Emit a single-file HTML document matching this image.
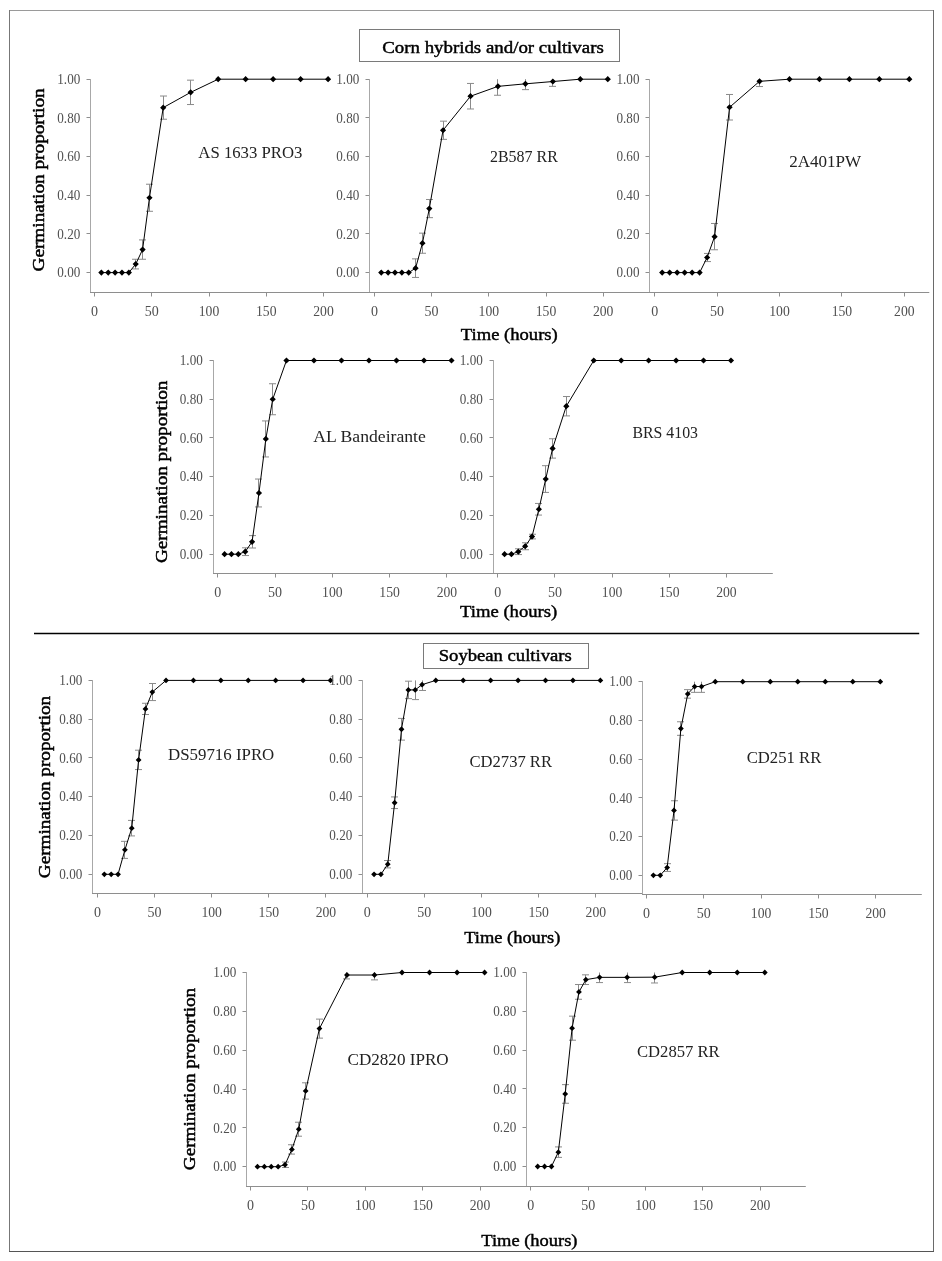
<!DOCTYPE html><html><head><meta charset="utf-8"><style>html,body{margin:0;padding:0;background:#fff;}svg{display:block;will-change:transform;}text{font-family:"Liberation Serif", serif;}</style></head><body>
<svg width="942" height="1261" viewBox="0 0 942 1261" font-family='"Liberation Serif", serif'>
<rect x="0" y="0" width="942" height="1261" fill="#fff"/>
<path d="M9,10.5H934" stroke="#9a9a9a"/><path d="M9.5,10V1252" stroke="#777"/><path d="M933.5,10V1252" stroke="#6a6a6a"/><path d="M9,1251.5H934" stroke="#555"/>
<rect x="359.5" y="29.5" width="260" height="32" fill="none" stroke="#7a7a7a" stroke-width="1"/>
<text x="382.2" y="52.8" font-size="17.5" fill="#000" stroke="#000" stroke-width="0.45" textLength="221.6" lengthAdjust="spacingAndGlyphs">Corn hybrids and/or cultivars</text>
<line x1="34" y1="633.5" x2="919.2" y2="633.5" stroke="#000" stroke-width="1.3"/>
<rect x="423.5" y="643.5" width="165" height="25" fill="none" stroke="#7a7a7a" stroke-width="1"/>
<text x="438.7" y="661.4" font-size="17.5" fill="#000" stroke="#000" stroke-width="0.45" textLength="133.1" lengthAdjust="spacingAndGlyphs">Soybean cultivars</text>
<path d="M90.5,79.0V292.5" stroke="#a8a8a8" stroke-width="1" fill="none"/>
<path d="M90.0,292.5H369.5" stroke="#8e8e8e" stroke-width="1" fill="none"/>
<path d="M86.5,272.5H90.0M86.5,233.5H90.0M86.5,195.5H90.0M86.5,156.5H90.0M86.5,117.5H90.0M86.5,79.5H90.0M94.5,293.0V296.5M151.5,293.0V296.5M209.5,293.0V296.5M266.5,293.0V296.5M323.5,293.0V296.5" stroke="#8e8e8e" stroke-width="1" fill="none"/>
<g font-size="14" fill="#505050"><text x="57.30" y="277.35" textLength="23" lengthAdjust="spacingAndGlyphs">0.00</text><text x="57.30" y="238.67" textLength="23" lengthAdjust="spacingAndGlyphs">0.20</text><text x="57.30" y="199.99" textLength="23" lengthAdjust="spacingAndGlyphs">0.40</text><text x="57.30" y="161.31" textLength="23" lengthAdjust="spacingAndGlyphs">0.60</text><text x="57.30" y="122.63" textLength="23" lengthAdjust="spacingAndGlyphs">0.80</text><text x="57.30" y="83.95" textLength="23" lengthAdjust="spacingAndGlyphs">1.00</text><text x="94.50" y="316.10" text-anchor="middle">0</text><text x="151.75" y="316.10" text-anchor="middle">50</text><text x="198.75" y="316.10" textLength="20.5" lengthAdjust="spacingAndGlyphs">100</text><text x="256.00" y="316.10" textLength="20.5" lengthAdjust="spacingAndGlyphs">150</text><text x="313.25" y="316.10" textLength="20.5" lengthAdjust="spacingAndGlyphs">200</text></g>
<path d="M135.5,259.26V268.93M132.0,259.26h7M132.0,268.93h7M142.5,239.92V259.26M139.0,239.92h7M139.0,259.26h7M149.5,184.22V211.29M146.0,184.22h7M146.0,211.29h7M163.5,96.03V119.23M160.0,96.03h7M160.0,119.23h7M190.5,80.17V104.54M187.0,80.17h7M187.0,104.54h7" stroke="#8a8a8a" stroke-width="1" fill="none"/>
<polyline points="101.37,272.60 108.24,272.60 115.11,272.60 121.98,272.60 128.85,272.60 135.72,264.09 142.59,249.59 149.46,197.75 163.20,107.63 190.68,92.35 218.16,79.20 245.64,79.20 273.12,79.20 300.60,79.20 328.08,79.20" stroke="#000" stroke-width="1" fill="none"/>
<path d="M101.37,269.50l3.1,3.1l-3.1,3.1l-3.1,-3.1zM108.24,269.50l3.1,3.1l-3.1,3.1l-3.1,-3.1zM115.11,269.50l3.1,3.1l-3.1,3.1l-3.1,-3.1zM121.98,269.50l3.1,3.1l-3.1,3.1l-3.1,-3.1zM128.85,269.50l3.1,3.1l-3.1,3.1l-3.1,-3.1zM135.72,260.99l3.1,3.1l-3.1,3.1l-3.1,-3.1zM142.59,246.49l3.1,3.1l-3.1,3.1l-3.1,-3.1zM149.46,194.65l3.1,3.1l-3.1,3.1l-3.1,-3.1zM163.20,104.53l3.1,3.1l-3.1,3.1l-3.1,-3.1zM190.68,89.25l3.1,3.1l-3.1,3.1l-3.1,-3.1zM218.16,76.10l3.1,3.1l-3.1,3.1l-3.1,-3.1zM245.64,76.10l3.1,3.1l-3.1,3.1l-3.1,-3.1zM273.12,76.10l3.1,3.1l-3.1,3.1l-3.1,-3.1zM300.60,76.10l3.1,3.1l-3.1,3.1l-3.1,-3.1zM328.08,76.10l3.1,3.1l-3.1,3.1l-3.1,-3.1z" fill="#000"/>
<text x="198.3" y="158.3" font-size="17" fill="#222" textLength="104.2" lengthAdjust="spacingAndGlyphs">AS 1633 PRO3</text>
<path d="M369.5,79.0V292.5" stroke="#a8a8a8" stroke-width="1" fill="none"/>
<path d="M369.0,292.5H649.7" stroke="#8e8e8e" stroke-width="1" fill="none"/>
<path d="M365.5,272.5H369.0M365.5,233.5H369.0M365.5,195.5H369.0M365.5,156.5H369.0M365.5,117.5H369.0M365.5,79.5H369.0M374.5,293.0V296.5M431.5,293.0V296.5M488.5,293.0V296.5M546.5,293.0V296.5M603.5,293.0V296.5" stroke="#8e8e8e" stroke-width="1" fill="none"/>
<g font-size="14" fill="#505050"><text x="336.30" y="277.35" textLength="23" lengthAdjust="spacingAndGlyphs">0.00</text><text x="336.30" y="238.67" textLength="23" lengthAdjust="spacingAndGlyphs">0.20</text><text x="336.30" y="199.99" textLength="23" lengthAdjust="spacingAndGlyphs">0.40</text><text x="336.30" y="161.31" textLength="23" lengthAdjust="spacingAndGlyphs">0.60</text><text x="336.30" y="122.63" textLength="23" lengthAdjust="spacingAndGlyphs">0.80</text><text x="336.30" y="83.95" textLength="23" lengthAdjust="spacingAndGlyphs">1.00</text><text x="374.40" y="316.10" text-anchor="middle">0</text><text x="431.60" y="316.10" text-anchor="middle">50</text><text x="478.55" y="316.10" textLength="20.5" lengthAdjust="spacingAndGlyphs">100</text><text x="535.75" y="316.10" textLength="20.5" lengthAdjust="spacingAndGlyphs">150</text><text x="592.95" y="316.10" textLength="20.5" lengthAdjust="spacingAndGlyphs">200</text></g>
<path d="M415.5,258.87V277.44M412.0,258.87h7M412.0,277.44h7M422.5,233.15V253.26M419.0,233.15h7M419.0,253.26h7M429.5,199.49V217.67M426.0,199.49h7M426.0,217.67h7M443.5,121.17V139.35M440.0,121.17h7M440.0,139.35h7M470.5,83.45V108.98M467.0,83.45h7M467.0,108.98h7M497.5,79.20V95.25M494.0,95.25h7M525.5,79.20V89.64M522.0,89.64h7M552.5,79.20V86.36M549.0,86.36h7" stroke="#8a8a8a" stroke-width="1" fill="none"/>
<polyline points="381.26,272.60 388.13,272.60 394.99,272.60 401.86,272.60 408.72,272.60 415.58,268.15 422.45,243.20 429.31,208.58 443.04,130.26 470.50,96.22 497.95,86.36 525.41,83.84 552.86,81.52 580.32,79.20 607.78,79.20" stroke="#000" stroke-width="1" fill="none"/>
<path d="M381.26,269.50l3.1,3.1l-3.1,3.1l-3.1,-3.1zM388.13,269.50l3.1,3.1l-3.1,3.1l-3.1,-3.1zM394.99,269.50l3.1,3.1l-3.1,3.1l-3.1,-3.1zM401.86,269.50l3.1,3.1l-3.1,3.1l-3.1,-3.1zM408.72,269.50l3.1,3.1l-3.1,3.1l-3.1,-3.1zM415.58,265.05l3.1,3.1l-3.1,3.1l-3.1,-3.1zM422.45,240.10l3.1,3.1l-3.1,3.1l-3.1,-3.1zM429.31,205.48l3.1,3.1l-3.1,3.1l-3.1,-3.1zM443.04,127.16l3.1,3.1l-3.1,3.1l-3.1,-3.1zM470.50,93.12l3.1,3.1l-3.1,3.1l-3.1,-3.1zM497.95,83.26l3.1,3.1l-3.1,3.1l-3.1,-3.1zM525.41,80.74l3.1,3.1l-3.1,3.1l-3.1,-3.1zM552.86,78.42l3.1,3.1l-3.1,3.1l-3.1,-3.1zM580.32,76.10l3.1,3.1l-3.1,3.1l-3.1,-3.1zM607.78,76.10l3.1,3.1l-3.1,3.1l-3.1,-3.1z" fill="#000"/>
<text x="490" y="162.2" font-size="17" fill="#222" textLength="67.8" lengthAdjust="spacingAndGlyphs">2B587 RR</text>
<path d="M649.5,79.0V292.5" stroke="#a8a8a8" stroke-width="1" fill="none"/>
<path d="M649.0,292.5H929.3" stroke="#8e8e8e" stroke-width="1" fill="none"/>
<path d="M645.5,272.5H649.0M645.5,233.5H649.0M645.5,195.5H649.0M645.5,156.5H649.0M645.5,117.5H649.0M645.5,79.5H649.0M654.5,293.0V296.5M717.5,293.0V296.5M779.5,293.0V296.5M841.5,293.0V296.5M904.5,293.0V296.5" stroke="#8e8e8e" stroke-width="1" fill="none"/>
<g font-size="14" fill="#505050"><text x="616.50" y="277.35" textLength="23" lengthAdjust="spacingAndGlyphs">0.00</text><text x="616.50" y="238.67" textLength="23" lengthAdjust="spacingAndGlyphs">0.20</text><text x="616.50" y="199.99" textLength="23" lengthAdjust="spacingAndGlyphs">0.40</text><text x="616.50" y="161.31" textLength="23" lengthAdjust="spacingAndGlyphs">0.60</text><text x="616.50" y="122.63" textLength="23" lengthAdjust="spacingAndGlyphs">0.80</text><text x="616.50" y="83.95" textLength="23" lengthAdjust="spacingAndGlyphs">1.00</text><text x="654.70" y="316.10" text-anchor="middle">0</text><text x="717.10" y="316.10" text-anchor="middle">50</text><text x="769.25" y="316.10" textLength="20.5" lengthAdjust="spacingAndGlyphs">100</text><text x="831.65" y="316.10" textLength="20.5" lengthAdjust="spacingAndGlyphs">150</text><text x="894.05" y="316.10" textLength="20.5" lengthAdjust="spacingAndGlyphs">200</text></g>
<path d="M707.5,253.45V261.58M704.0,253.45h7M704.0,261.58h7M714.5,223.48V249.78M711.0,223.48h7M711.0,249.78h7M729.5,94.48V120.01M726.0,94.48h7M726.0,120.01h7M759.5,79.20V86.55M756.0,86.55h7" stroke="#8a8a8a" stroke-width="1" fill="none"/>
<polyline points="662.19,272.60 669.68,272.60 677.16,272.60 684.65,272.60 692.14,272.60 699.63,272.60 707.12,257.51 714.60,236.63 729.58,107.24 759.53,81.33 789.48,79.20 819.44,79.20 849.39,79.20 879.34,79.20 909.29,79.20" stroke="#000" stroke-width="1" fill="none"/>
<path d="M662.19,269.50l3.1,3.1l-3.1,3.1l-3.1,-3.1zM669.68,269.50l3.1,3.1l-3.1,3.1l-3.1,-3.1zM677.16,269.50l3.1,3.1l-3.1,3.1l-3.1,-3.1zM684.65,269.50l3.1,3.1l-3.1,3.1l-3.1,-3.1zM692.14,269.50l3.1,3.1l-3.1,3.1l-3.1,-3.1zM699.63,269.50l3.1,3.1l-3.1,3.1l-3.1,-3.1zM707.12,254.41l3.1,3.1l-3.1,3.1l-3.1,-3.1zM714.60,233.53l3.1,3.1l-3.1,3.1l-3.1,-3.1zM729.58,104.14l3.1,3.1l-3.1,3.1l-3.1,-3.1zM759.53,78.23l3.1,3.1l-3.1,3.1l-3.1,-3.1zM789.48,76.10l3.1,3.1l-3.1,3.1l-3.1,-3.1zM819.44,76.10l3.1,3.1l-3.1,3.1l-3.1,-3.1zM849.39,76.10l3.1,3.1l-3.1,3.1l-3.1,-3.1zM879.34,76.10l3.1,3.1l-3.1,3.1l-3.1,-3.1zM909.29,76.10l3.1,3.1l-3.1,3.1l-3.1,-3.1z" fill="#000"/>
<text x="789.2" y="167.2" font-size="17" fill="#222" textLength="72" lengthAdjust="spacingAndGlyphs">2A401PW</text>
<path d="M213.5,360.0V573.5" stroke="#a8a8a8" stroke-width="1" fill="none"/>
<path d="M213.0,573.5H493.0" stroke="#8e8e8e" stroke-width="1" fill="none"/>
<path d="M209.5,554.5H213.0M209.5,515.5H213.0M209.5,476.5H213.0M209.5,437.5H213.0M209.5,399.5H213.0M209.5,360.5H213.0M217.5,574.0V577.5M275.5,574.0V577.5M332.5,574.0V577.5M389.5,574.0V577.5M446.5,574.0V577.5" stroke="#8e8e8e" stroke-width="1" fill="none"/>
<g font-size="14" fill="#505050"><text x="179.80" y="558.95" textLength="23" lengthAdjust="spacingAndGlyphs">0.00</text><text x="179.80" y="520.21" textLength="23" lengthAdjust="spacingAndGlyphs">0.20</text><text x="179.80" y="481.47" textLength="23" lengthAdjust="spacingAndGlyphs">0.40</text><text x="179.80" y="442.73" textLength="23" lengthAdjust="spacingAndGlyphs">0.60</text><text x="179.80" y="403.99" textLength="23" lengthAdjust="spacingAndGlyphs">0.80</text><text x="179.80" y="365.25" textLength="23" lengthAdjust="spacingAndGlyphs">1.00</text><text x="217.70" y="597.30" text-anchor="middle">0</text><text x="275.00" y="597.30" text-anchor="middle">50</text><text x="322.05" y="597.30" textLength="20.5" lengthAdjust="spacingAndGlyphs">100</text><text x="379.35" y="597.30" textLength="20.5" lengthAdjust="spacingAndGlyphs">150</text><text x="436.65" y="597.30" textLength="20.5" lengthAdjust="spacingAndGlyphs">200</text></g>
<path d="M245.5,547.81V555.56M242.0,547.81h7M242.0,555.56h7M252.5,535.60V548.00M249.0,535.60h7M249.0,548.00h7M258.5,479.04V506.94M255.0,479.04h7M255.0,506.94h7M265.5,420.93V456.96M262.0,420.93h7M262.0,456.96h7M272.5,383.74V414.74M269.0,383.74h7M269.0,414.74h7" stroke="#8a8a8a" stroke-width="1" fill="none"/>
<polyline points="224.58,554.20 231.45,554.20 238.33,554.20 245.20,551.68 252.08,541.80 258.96,492.99 265.83,438.95 272.71,399.24 286.46,360.50 313.96,360.50 341.47,360.50 368.97,360.50 396.48,360.50 423.98,360.50 451.48,360.50" stroke="#000" stroke-width="1" fill="none"/>
<path d="M224.58,551.10l3.1,3.1l-3.1,3.1l-3.1,-3.1zM231.45,551.10l3.1,3.1l-3.1,3.1l-3.1,-3.1zM238.33,551.10l3.1,3.1l-3.1,3.1l-3.1,-3.1zM245.20,548.58l3.1,3.1l-3.1,3.1l-3.1,-3.1zM252.08,538.70l3.1,3.1l-3.1,3.1l-3.1,-3.1zM258.96,489.89l3.1,3.1l-3.1,3.1l-3.1,-3.1zM265.83,435.85l3.1,3.1l-3.1,3.1l-3.1,-3.1zM272.71,396.14l3.1,3.1l-3.1,3.1l-3.1,-3.1zM286.46,357.40l3.1,3.1l-3.1,3.1l-3.1,-3.1zM313.96,357.40l3.1,3.1l-3.1,3.1l-3.1,-3.1zM341.47,357.40l3.1,3.1l-3.1,3.1l-3.1,-3.1zM368.97,357.40l3.1,3.1l-3.1,3.1l-3.1,-3.1zM396.48,357.40l3.1,3.1l-3.1,3.1l-3.1,-3.1zM423.98,357.40l3.1,3.1l-3.1,3.1l-3.1,-3.1zM451.48,357.40l3.1,3.1l-3.1,3.1l-3.1,-3.1z" fill="#000"/>
<text x="313.3" y="442" font-size="17" fill="#222" textLength="112.5" lengthAdjust="spacingAndGlyphs">AL Bandeirante</text>
<path d="M493.5,360.0V573.5" stroke="#a8a8a8" stroke-width="1" fill="none"/>
<path d="M493.0,573.5H772.8" stroke="#8e8e8e" stroke-width="1" fill="none"/>
<path d="M489.5,554.5H493.0M489.5,515.5H493.0M489.5,476.5H493.0M489.5,437.5H493.0M489.5,399.5H493.0M489.5,360.5H493.0M497.5,574.0V577.5M554.5,574.0V577.5M612.5,574.0V577.5M669.5,574.0V577.5M726.5,574.0V577.5" stroke="#8e8e8e" stroke-width="1" fill="none"/>
<g font-size="14" fill="#505050"><text x="459.80" y="558.95" textLength="23" lengthAdjust="spacingAndGlyphs">0.00</text><text x="459.80" y="520.21" textLength="23" lengthAdjust="spacingAndGlyphs">0.20</text><text x="459.80" y="481.47" textLength="23" lengthAdjust="spacingAndGlyphs">0.40</text><text x="459.80" y="442.73" textLength="23" lengthAdjust="spacingAndGlyphs">0.60</text><text x="459.80" y="403.99" textLength="23" lengthAdjust="spacingAndGlyphs">0.80</text><text x="459.80" y="365.25" textLength="23" lengthAdjust="spacingAndGlyphs">1.00</text><text x="497.70" y="597.30" text-anchor="middle">0</text><text x="554.88" y="597.30" text-anchor="middle">50</text><text x="601.80" y="597.30" textLength="20.5" lengthAdjust="spacingAndGlyphs">100</text><text x="658.98" y="597.30" textLength="20.5" lengthAdjust="spacingAndGlyphs">150</text><text x="716.15" y="597.30" textLength="20.5" lengthAdjust="spacingAndGlyphs">200</text></g>
<path d="M518.5,548.78V554.59M515.0,548.78h7M515.0,554.59h7M525.5,542.77V549.74M522.0,542.77h7M522.0,549.74h7M532.5,534.25V538.90M529.0,534.25h7M529.0,538.90h7M538.5,503.45V515.07M535.0,503.45h7M535.0,515.07h7M545.5,465.68V492.41M542.0,465.68h7M542.0,492.41h7M552.5,438.75V458.12M549.0,438.75h7M549.0,458.12h7M566.5,396.53V415.90M563.0,396.53h7M563.0,415.90h7" stroke="#8a8a8a" stroke-width="1" fill="none"/>
<polyline points="504.56,554.20 511.42,554.20 518.28,551.68 525.14,546.26 532.00,536.57 538.87,509.26 545.73,479.04 552.59,448.44 566.31,406.21 593.75,360.50 621.20,360.50 648.64,360.50 676.09,360.50 703.53,360.50 730.97,360.50" stroke="#000" stroke-width="1" fill="none"/>
<path d="M504.56,551.10l3.1,3.1l-3.1,3.1l-3.1,-3.1zM511.42,551.10l3.1,3.1l-3.1,3.1l-3.1,-3.1zM518.28,548.58l3.1,3.1l-3.1,3.1l-3.1,-3.1zM525.14,543.16l3.1,3.1l-3.1,3.1l-3.1,-3.1zM532.00,533.47l3.1,3.1l-3.1,3.1l-3.1,-3.1zM538.87,506.16l3.1,3.1l-3.1,3.1l-3.1,-3.1zM545.73,475.94l3.1,3.1l-3.1,3.1l-3.1,-3.1zM552.59,445.34l3.1,3.1l-3.1,3.1l-3.1,-3.1zM566.31,403.11l3.1,3.1l-3.1,3.1l-3.1,-3.1zM593.75,357.40l3.1,3.1l-3.1,3.1l-3.1,-3.1zM621.20,357.40l3.1,3.1l-3.1,3.1l-3.1,-3.1zM648.64,357.40l3.1,3.1l-3.1,3.1l-3.1,-3.1zM676.09,357.40l3.1,3.1l-3.1,3.1l-3.1,-3.1zM703.53,357.40l3.1,3.1l-3.1,3.1l-3.1,-3.1zM730.97,357.40l3.1,3.1l-3.1,3.1l-3.1,-3.1z" fill="#000"/>
<text x="632.5" y="437.5" font-size="17" fill="#222" textLength="65.5" lengthAdjust="spacingAndGlyphs">BRS 4103</text>
<path d="M92.5,680.0V893.5" stroke="#a8a8a8" stroke-width="1" fill="none"/>
<path d="M92.0,893.5H362.5" stroke="#8e8e8e" stroke-width="1" fill="none"/>
<path d="M88.5,874.5H92.0M88.5,835.5H92.0M88.5,796.5H92.0M88.5,757.5H92.0M88.5,719.5H92.0M88.5,680.5H92.0M97.5,894.0V897.5M154.5,894.0V897.5M211.5,894.0V897.5M268.5,894.0V897.5M325.5,894.0V897.5" stroke="#8e8e8e" stroke-width="1" fill="none"/>
<g font-size="14" fill="#505050"><text x="59.30" y="879.05" textLength="23" lengthAdjust="spacingAndGlyphs">0.00</text><text x="59.30" y="840.27" textLength="23" lengthAdjust="spacingAndGlyphs">0.20</text><text x="59.30" y="801.49" textLength="23" lengthAdjust="spacingAndGlyphs">0.40</text><text x="59.30" y="762.71" textLength="23" lengthAdjust="spacingAndGlyphs">0.60</text><text x="59.30" y="723.93" textLength="23" lengthAdjust="spacingAndGlyphs">0.80</text><text x="59.30" y="685.15" textLength="23" lengthAdjust="spacingAndGlyphs">1.00</text><text x="97.50" y="917.30" text-anchor="middle">0</text><text x="154.60" y="917.30" text-anchor="middle">50</text><text x="201.45" y="917.30" textLength="20.5" lengthAdjust="spacingAndGlyphs">100</text><text x="258.55" y="917.30" textLength="20.5" lengthAdjust="spacingAndGlyphs">150</text><text x="315.65" y="917.30" textLength="20.5" lengthAdjust="spacingAndGlyphs">200</text></g>
<path d="M124.5,841.34V858.40M121.0,841.34h7M121.0,858.40h7M131.5,820.40V835.91M128.0,820.40h7M128.0,835.91h7M138.5,750.20V769.59M135.0,750.20h7M135.0,769.59h7M145.5,703.28V714.53M142.0,703.28h7M142.0,714.53h7M152.5,683.50V700.57M149.0,683.50h7M149.0,700.57h7" stroke="#8a8a8a" stroke-width="1" fill="none"/>
<polyline points="104.35,874.30 111.20,874.30 118.06,874.30 124.91,849.87 131.76,828.15 138.61,759.90 145.46,708.90 152.32,692.03 166.02,680.40 193.43,680.40 220.84,680.40 248.24,680.40 275.65,680.40 303.06,680.40 330.47,680.40" stroke="#000" stroke-width="1" fill="none"/>
<path d="M104.35,871.40l2.9,2.9l-2.9,2.9l-2.9,-2.9zM111.20,871.40l2.9,2.9l-2.9,2.9l-2.9,-2.9zM118.06,871.40l2.9,2.9l-2.9,2.9l-2.9,-2.9zM124.91,846.97l2.9,2.9l-2.9,2.9l-2.9,-2.9zM131.76,825.25l2.9,2.9l-2.9,2.9l-2.9,-2.9zM138.61,757.00l2.9,2.9l-2.9,2.9l-2.9,-2.9zM145.46,706.00l2.9,2.9l-2.9,2.9l-2.9,-2.9zM152.32,689.13l2.9,2.9l-2.9,2.9l-2.9,-2.9zM166.02,677.50l2.9,2.9l-2.9,2.9l-2.9,-2.9zM193.43,677.50l2.9,2.9l-2.9,2.9l-2.9,-2.9zM220.84,677.50l2.9,2.9l-2.9,2.9l-2.9,-2.9zM248.24,677.50l2.9,2.9l-2.9,2.9l-2.9,-2.9zM275.65,677.50l2.9,2.9l-2.9,2.9l-2.9,-2.9zM303.06,677.50l2.9,2.9l-2.9,2.9l-2.9,-2.9zM330.47,677.50l2.9,2.9l-2.9,2.9l-2.9,-2.9z" fill="#000"/>
<text x="168" y="759.7" font-size="17" fill="#222" textLength="106.3" lengthAdjust="spacingAndGlyphs">DS59716 IPRO</text>
<path d="M362.5,680.0V893.5" stroke="#a8a8a8" stroke-width="1" fill="none"/>
<path d="M362.0,893.5H642.5" stroke="#8e8e8e" stroke-width="1" fill="none"/>
<path d="M358.5,874.5H362.0M358.5,835.5H362.0M358.5,796.5H362.0M358.5,757.5H362.0M358.5,719.5H362.0M358.5,680.5H362.0M367.5,894.0V897.5M424.5,894.0V897.5M481.5,894.0V897.5M538.5,894.0V897.5M595.5,894.0V897.5" stroke="#8e8e8e" stroke-width="1" fill="none"/>
<g font-size="14" fill="#505050"><text x="329.30" y="879.05" textLength="23" lengthAdjust="spacingAndGlyphs">0.00</text><text x="329.30" y="840.27" textLength="23" lengthAdjust="spacingAndGlyphs">0.20</text><text x="329.30" y="801.49" textLength="23" lengthAdjust="spacingAndGlyphs">0.40</text><text x="329.30" y="762.71" textLength="23" lengthAdjust="spacingAndGlyphs">0.60</text><text x="329.30" y="723.93" textLength="23" lengthAdjust="spacingAndGlyphs">0.80</text><text x="329.30" y="685.15" textLength="23" lengthAdjust="spacingAndGlyphs">1.00</text><text x="367.20" y="917.30" text-anchor="middle">0</text><text x="424.35" y="917.30" text-anchor="middle">50</text><text x="471.25" y="917.30" textLength="20.5" lengthAdjust="spacingAndGlyphs">100</text><text x="528.40" y="917.30" textLength="20.5" lengthAdjust="spacingAndGlyphs">150</text><text x="585.55" y="917.30" textLength="20.5" lengthAdjust="spacingAndGlyphs">200</text></g>
<path d="M387.5,860.53V867.90M384.0,860.53h7M384.0,867.90h7M394.5,796.93V808.57M391.0,796.93h7M391.0,808.57h7M401.5,718.40V740.12M398.0,718.40h7M398.0,740.12h7M408.5,681.18V698.63M405.0,681.18h7M405.0,698.63h7M415.5,680.40V699.60M412.0,699.60h7M422.5,680.40V690.48M419.0,690.48h7" stroke="#8a8a8a" stroke-width="1" fill="none"/>
<polyline points="374.06,874.30 380.92,874.30 387.77,864.22 394.63,802.75 401.49,729.26 408.35,689.90 415.21,689.90 422.06,684.67 435.78,680.40 463.21,680.40 490.64,680.40 518.08,680.40 545.51,680.40 572.94,680.40 600.37,680.40" stroke="#000" stroke-width="1" fill="none"/>
<path d="M374.06,871.40l2.9,2.9l-2.9,2.9l-2.9,-2.9zM380.92,871.40l2.9,2.9l-2.9,2.9l-2.9,-2.9zM387.77,861.32l2.9,2.9l-2.9,2.9l-2.9,-2.9zM394.63,799.85l2.9,2.9l-2.9,2.9l-2.9,-2.9zM401.49,726.36l2.9,2.9l-2.9,2.9l-2.9,-2.9zM408.35,687.00l2.9,2.9l-2.9,2.9l-2.9,-2.9zM415.21,687.00l2.9,2.9l-2.9,2.9l-2.9,-2.9zM422.06,681.77l2.9,2.9l-2.9,2.9l-2.9,-2.9zM435.78,677.50l2.9,2.9l-2.9,2.9l-2.9,-2.9zM463.21,677.50l2.9,2.9l-2.9,2.9l-2.9,-2.9zM490.64,677.50l2.9,2.9l-2.9,2.9l-2.9,-2.9zM518.08,677.50l2.9,2.9l-2.9,2.9l-2.9,-2.9zM545.51,677.50l2.9,2.9l-2.9,2.9l-2.9,-2.9zM572.94,677.50l2.9,2.9l-2.9,2.9l-2.9,-2.9zM600.37,677.50l2.9,2.9l-2.9,2.9l-2.9,-2.9z" fill="#000"/>
<text x="469.5" y="766.7" font-size="17" fill="#222" textLength="82.5" lengthAdjust="spacingAndGlyphs">CD2737 RR</text>
<path d="M642.5,681.0V894.5" stroke="#a8a8a8" stroke-width="1" fill="none"/>
<path d="M642.0,894.5H921.8" stroke="#8e8e8e" stroke-width="1" fill="none"/>
<path d="M638.5,875.5H642.0M638.5,836.5H642.0M638.5,797.5H642.0M638.5,759.5H642.0M638.5,720.5H642.0M638.5,681.5H642.0M646.5,895.0V898.5M703.5,895.0V898.5M761.5,895.0V898.5M818.5,895.0V898.5M875.5,895.0V898.5" stroke="#8e8e8e" stroke-width="1" fill="none"/>
<g font-size="14" fill="#505050"><text x="609.30" y="880.05" textLength="23" lengthAdjust="spacingAndGlyphs">0.00</text><text x="609.30" y="841.33" textLength="23" lengthAdjust="spacingAndGlyphs">0.20</text><text x="609.30" y="802.61" textLength="23" lengthAdjust="spacingAndGlyphs">0.40</text><text x="609.30" y="763.89" textLength="23" lengthAdjust="spacingAndGlyphs">0.60</text><text x="609.30" y="725.17" textLength="23" lengthAdjust="spacingAndGlyphs">0.80</text><text x="609.30" y="686.45" textLength="23" lengthAdjust="spacingAndGlyphs">1.00</text><text x="646.50" y="918.30" text-anchor="middle">0</text><text x="703.80" y="918.30" text-anchor="middle">50</text><text x="750.85" y="918.30" textLength="20.5" lengthAdjust="spacingAndGlyphs">100</text><text x="808.15" y="918.30" textLength="20.5" lengthAdjust="spacingAndGlyphs">150</text><text x="865.45" y="918.30" textLength="20.5" lengthAdjust="spacingAndGlyphs">200</text></g>
<path d="M667.5,863.68V871.43M664.0,863.68h7M664.0,871.43h7M674.5,800.76V820.12M671.0,800.76h7M671.0,820.12h7M680.5,721.78V735.33M677.0,721.78h7M677.0,735.33h7M687.5,689.64V698.16M684.0,689.64h7M684.0,698.16h7M694.5,681.70V692.35M691.0,692.35h7M701.5,681.70V692.35M698.0,692.35h7" stroke="#8a8a8a" stroke-width="1" fill="none"/>
<polyline points="653.38,875.30 660.25,875.30 667.13,867.56 674.00,810.44 680.88,728.55 687.76,693.90 694.63,686.54 701.51,686.54 715.26,681.70 742.76,681.70 770.27,681.70 797.77,681.70 825.28,681.70 852.78,681.70 880.28,681.70" stroke="#000" stroke-width="1" fill="none"/>
<path d="M653.38,872.40l2.9,2.9l-2.9,2.9l-2.9,-2.9zM660.25,872.40l2.9,2.9l-2.9,2.9l-2.9,-2.9zM667.13,864.66l2.9,2.9l-2.9,2.9l-2.9,-2.9zM674.00,807.54l2.9,2.9l-2.9,2.9l-2.9,-2.9zM680.88,725.65l2.9,2.9l-2.9,2.9l-2.9,-2.9zM687.76,691.00l2.9,2.9l-2.9,2.9l-2.9,-2.9zM694.63,683.64l2.9,2.9l-2.9,2.9l-2.9,-2.9zM701.51,683.64l2.9,2.9l-2.9,2.9l-2.9,-2.9zM715.26,678.80l2.9,2.9l-2.9,2.9l-2.9,-2.9zM742.76,678.80l2.9,2.9l-2.9,2.9l-2.9,-2.9zM770.27,678.80l2.9,2.9l-2.9,2.9l-2.9,-2.9zM797.77,678.80l2.9,2.9l-2.9,2.9l-2.9,-2.9zM825.28,678.80l2.9,2.9l-2.9,2.9l-2.9,-2.9zM852.78,678.80l2.9,2.9l-2.9,2.9l-2.9,-2.9zM880.28,678.80l2.9,2.9l-2.9,2.9l-2.9,-2.9z" fill="#000"/>
<text x="746.7" y="762.8" font-size="17" fill="#222" textLength="74.6" lengthAdjust="spacingAndGlyphs">CD251 RR</text>
<path d="M246.5,972.0V1186.5" stroke="#a8a8a8" stroke-width="1" fill="none"/>
<path d="M246.0,1186.5H526.5" stroke="#8e8e8e" stroke-width="1" fill="none"/>
<path d="M242.5,1166.5H246.0M242.5,1127.5H246.0M242.5,1089.5H246.0M242.5,1050.5H246.0M242.5,1011.5H246.0M242.5,972.5H246.0M250.5,1187.0V1190.5M307.5,1187.0V1190.5M365.5,1187.0V1190.5M422.5,1187.0V1190.5M480.5,1187.0V1190.5" stroke="#8e8e8e" stroke-width="1" fill="none"/>
<g font-size="14" fill="#505050"><text x="213.30" y="1171.45" textLength="23" lengthAdjust="spacingAndGlyphs">0.00</text><text x="213.30" y="1132.61" textLength="23" lengthAdjust="spacingAndGlyphs">0.20</text><text x="213.30" y="1093.77" textLength="23" lengthAdjust="spacingAndGlyphs">0.40</text><text x="213.30" y="1054.93" textLength="23" lengthAdjust="spacingAndGlyphs">0.60</text><text x="213.30" y="1016.09" textLength="23" lengthAdjust="spacingAndGlyphs">0.80</text><text x="213.30" y="977.25" textLength="23" lengthAdjust="spacingAndGlyphs">1.00</text><text x="250.60" y="1210.00" text-anchor="middle">0</text><text x="307.95" y="1210.00" text-anchor="middle">50</text><text x="355.05" y="1210.00" textLength="20.5" lengthAdjust="spacingAndGlyphs">100</text><text x="412.40" y="1210.00" textLength="20.5" lengthAdjust="spacingAndGlyphs">150</text><text x="469.75" y="1210.00" textLength="20.5" lengthAdjust="spacingAndGlyphs">200</text></g>
<path d="M285.5,1162.04V1167.48M282.0,1162.04h7M282.0,1167.48h7M291.5,1144.76V1154.08M288.0,1144.76h7M288.0,1154.08h7M298.5,1122.23V1136.21M295.0,1122.23h7M295.0,1136.21h7M305.5,1082.81V1099.12M302.0,1082.81h7M302.0,1099.12h7M319.5,1019.11V1038.14M316.0,1019.11h7M316.0,1038.14h7M346.5,972.50V978.91M343.0,978.91h7M374.5,972.50V979.88M371.0,979.88h7" stroke="#8a8a8a" stroke-width="1" fill="none"/>
<polyline points="257.48,1166.70 264.36,1166.70 271.25,1166.70 278.13,1166.70 285.01,1164.76 291.89,1149.42 298.77,1129.22 305.66,1090.96 319.42,1028.62 346.95,975.02 374.48,975.02 402.00,972.50 429.53,972.50 457.06,972.50 484.59,972.50" stroke="#000" stroke-width="1" fill="none"/>
<path d="M257.48,1163.80l2.9,2.9l-2.9,2.9l-2.9,-2.9zM264.36,1163.80l2.9,2.9l-2.9,2.9l-2.9,-2.9zM271.25,1163.80l2.9,2.9l-2.9,2.9l-2.9,-2.9zM278.13,1163.80l2.9,2.9l-2.9,2.9l-2.9,-2.9zM285.01,1161.86l2.9,2.9l-2.9,2.9l-2.9,-2.9zM291.89,1146.52l2.9,2.9l-2.9,2.9l-2.9,-2.9zM298.77,1126.32l2.9,2.9l-2.9,2.9l-2.9,-2.9zM305.66,1088.06l2.9,2.9l-2.9,2.9l-2.9,-2.9zM319.42,1025.72l2.9,2.9l-2.9,2.9l-2.9,-2.9zM346.95,972.12l2.9,2.9l-2.9,2.9l-2.9,-2.9zM374.48,972.12l2.9,2.9l-2.9,2.9l-2.9,-2.9zM402.00,969.60l2.9,2.9l-2.9,2.9l-2.9,-2.9zM429.53,969.60l2.9,2.9l-2.9,2.9l-2.9,-2.9zM457.06,969.60l2.9,2.9l-2.9,2.9l-2.9,-2.9zM484.59,969.60l2.9,2.9l-2.9,2.9l-2.9,-2.9z" fill="#000"/>
<text x="347.5" y="1065.3" font-size="17" fill="#222" textLength="101.2" lengthAdjust="spacingAndGlyphs">CD2820 IPRO</text>
<path d="M526.5,972.0V1186.5" stroke="#a8a8a8" stroke-width="1" fill="none"/>
<path d="M526.0,1186.5H805.8" stroke="#8e8e8e" stroke-width="1" fill="none"/>
<path d="M522.5,1166.5H526.0M522.5,1127.5H526.0M522.5,1088.5H526.0M522.5,1050.5H526.0M522.5,1011.5H526.0M522.5,972.5H526.0M530.5,1187.0V1190.5M588.5,1187.0V1190.5M645.5,1187.0V1190.5M702.5,1187.0V1190.5M760.5,1187.0V1190.5" stroke="#8e8e8e" stroke-width="1" fill="none"/>
<g font-size="14" fill="#505050"><text x="493.30" y="1171.25" textLength="23" lengthAdjust="spacingAndGlyphs">0.00</text><text x="493.30" y="1132.45" textLength="23" lengthAdjust="spacingAndGlyphs">0.20</text><text x="493.30" y="1093.65" textLength="23" lengthAdjust="spacingAndGlyphs">0.40</text><text x="493.30" y="1054.85" textLength="23" lengthAdjust="spacingAndGlyphs">0.60</text><text x="493.30" y="1016.05" textLength="23" lengthAdjust="spacingAndGlyphs">0.80</text><text x="493.30" y="977.25" textLength="23" lengthAdjust="spacingAndGlyphs">1.00</text><text x="530.80" y="1209.80" text-anchor="middle">0</text><text x="588.15" y="1209.80" text-anchor="middle">50</text><text x="635.25" y="1209.80" textLength="20.5" lengthAdjust="spacingAndGlyphs">100</text><text x="692.60" y="1209.80" textLength="20.5" lengthAdjust="spacingAndGlyphs">150</text><text x="749.95" y="1209.80" textLength="20.5" lengthAdjust="spacingAndGlyphs">200</text></g>
<path d="M558.5,1146.91V1157.38M555.0,1146.91h7M555.0,1157.38h7M565.5,1084.63V1103.26M562.0,1084.63h7M562.0,1103.26h7M572.5,1016.15V1040.21M569.0,1016.15h7M569.0,1040.21h7M578.5,984.53V999.27M575.0,984.53h7M575.0,999.27h7M585.5,974.83V984.53M582.0,974.83h7M582.0,984.53h7M599.5,972.50V982.59M596.0,982.59h7M627.5,972.50V982.59M624.0,982.59h7M654.5,972.50V982.98M651.0,982.98h7" stroke="#8a8a8a" stroke-width="1" fill="none"/>
<polyline points="537.68,1166.50 544.56,1166.50 551.45,1166.50 558.33,1152.14 565.21,1093.94 572.09,1028.18 578.97,991.90 585.86,979.68 599.62,977.35 627.15,977.35 654.68,977.16 682.20,972.50 709.73,972.50 737.26,972.50 764.79,972.50" stroke="#000" stroke-width="1" fill="none"/>
<path d="M537.68,1163.60l2.9,2.9l-2.9,2.9l-2.9,-2.9zM544.56,1163.60l2.9,2.9l-2.9,2.9l-2.9,-2.9zM551.45,1163.60l2.9,2.9l-2.9,2.9l-2.9,-2.9zM558.33,1149.24l2.9,2.9l-2.9,2.9l-2.9,-2.9zM565.21,1091.04l2.9,2.9l-2.9,2.9l-2.9,-2.9zM572.09,1025.28l2.9,2.9l-2.9,2.9l-2.9,-2.9zM578.97,989.00l2.9,2.9l-2.9,2.9l-2.9,-2.9zM585.86,976.78l2.9,2.9l-2.9,2.9l-2.9,-2.9zM599.62,974.45l2.9,2.9l-2.9,2.9l-2.9,-2.9zM627.15,974.45l2.9,2.9l-2.9,2.9l-2.9,-2.9zM654.68,974.26l2.9,2.9l-2.9,2.9l-2.9,-2.9zM682.20,969.60l2.9,2.9l-2.9,2.9l-2.9,-2.9zM709.73,969.60l2.9,2.9l-2.9,2.9l-2.9,-2.9zM737.26,969.60l2.9,2.9l-2.9,2.9l-2.9,-2.9zM764.79,969.60l2.9,2.9l-2.9,2.9l-2.9,-2.9z" fill="#000"/>
<text x="637" y="1056.7" font-size="17" fill="#222" textLength="82.7" lengthAdjust="spacingAndGlyphs">CD2857 RR</text>
<text transform="translate(44.3,271.5) rotate(-90)" x="0" y="0" font-size="17.3" fill="#000" stroke="#000" stroke-width="0.5" textLength="183.2" lengthAdjust="spacingAndGlyphs">Germination proportion</text>
<text transform="translate(167.3,563) rotate(-90)" x="0" y="0" font-size="17.3" fill="#000" stroke="#000" stroke-width="0.5" textLength="182.4" lengthAdjust="spacingAndGlyphs">Germination proportion</text>
<text transform="translate(49.7,878.2) rotate(-90)" x="0" y="0" font-size="17.3" fill="#000" stroke="#000" stroke-width="0.5" textLength="182.4" lengthAdjust="spacingAndGlyphs">Germination proportion</text>
<text transform="translate(195.1,1170.2) rotate(-90)" x="0" y="0" font-size="17.3" fill="#000" stroke="#000" stroke-width="0.5" textLength="182.4" lengthAdjust="spacingAndGlyphs">Germination proportion</text>
<text x="460.8" y="340" font-size="17.5" fill="#000" stroke="#000" stroke-width="0.45" textLength="97.0" lengthAdjust="spacingAndGlyphs">Time (hours)</text>
<text x="460" y="616.7" font-size="17.5" fill="#000" stroke="#000" stroke-width="0.45" textLength="97.3" lengthAdjust="spacingAndGlyphs">Time (hours)</text>
<text x="464.2" y="943" font-size="17.5" fill="#000" stroke="#000" stroke-width="0.45" textLength="96.1" lengthAdjust="spacingAndGlyphs">Time (hours)</text>
<text x="481.3" y="1245.8" font-size="17.5" fill="#000" stroke="#000" stroke-width="0.45" textLength="96.2" lengthAdjust="spacingAndGlyphs">Time (hours)</text>
</svg></body></html>
